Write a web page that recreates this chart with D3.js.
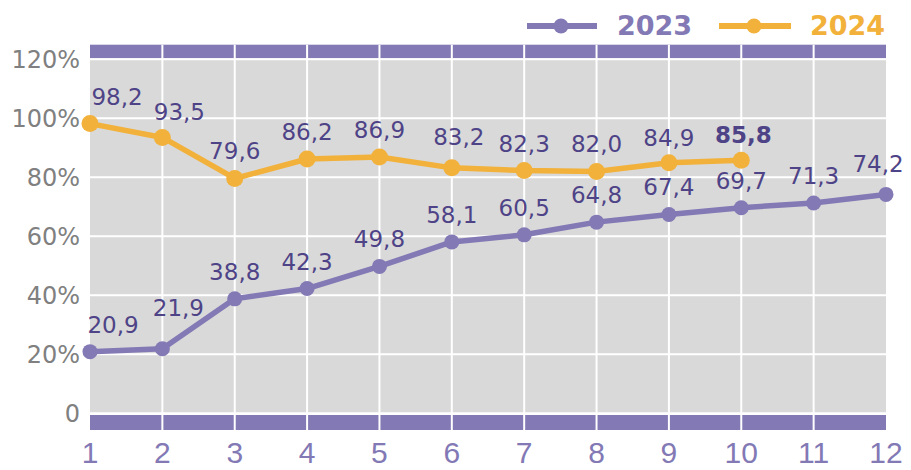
<!DOCTYPE html>
<html>
<head>
<meta charset="utf-8">
<script src="https://cdn.jsdelivr.net/npm/d3@7"></script>
<style>
  html, body { margin: 0; padding: 0; background: #fff; }
  svg { display: block; }
</style>
</head>
<body>
<svg id="chart" width="911" height="470"></svg>
<script>
const months = [1, 2, 3, 4, 5, 6, 7, 8, 9, 10, 11, 12];
const values2023 = [20.9, 21.9, 38.8, 42.3, 49.8, 58.1, 60.5, 64.8, 67.4, 69.7, 71.3, 74.2];
const values2024 = [98.2, 93.5, 79.6, 86.2, 86.9, 83.2, 82.3, 82.0, 84.9, 85.8];
const yTicks = [0, 20, 40, 60, 80, 100, 120];
const yTickLabels = ["0", "20%", "40%", "60%", "80%", "100%", "120%"];

const purple = "#8279B5", orange = "#F2B13A", labelColor = "#4E4387";

const svg = d3.select("#chart");

const x = d3.scalePoint()
    .domain(months)
    .range([90, 886]);

const y = d3.scaleLinear()
    .domain([0, 120])
    .range([413.3, 59.3]);

// plot background
svg.append("rect")
    .attr("x", 90).attr("y", 59)
    .attr("width", 796).attr("height", 355)
    .attr("fill", "#D9D9D9");

// purple bands top and bottom
svg.append("rect")
    .attr("x", 90).attr("y", 44.7)
    .attr("width", 796).attr("height", 13.6)
    .attr("fill", purple);
svg.append("rect")
    .attr("x", 90).attr("y", 415)
    .attr("width", 796).attr("height", 15)
    .attr("fill", purple);

// grid
svg.append("g")
    .selectAll("line")
    .data(yTicks)
    .enter().append("line")
    .attr("x1", 90).attr("x2", 886)
    .attr("y1", d => y(d)).attr("y2", d => y(d))
    .attr("stroke", "#fff")
    .attr("stroke-width", 2);

svg.append("g")
    .selectAll("line")
    .data(months.slice(1, -1))
    .enter().append("line")
    .attr("x1", d => x(d)).attr("x2", d => x(d))
    .attr("y1", 44.7).attr("y2", 430)
    .attr("stroke", "#fff")
    .attr("stroke-width", 2);

// y tick labels
svg.append("g")
    .selectAll("text")
    .data(yTicks)
    .enter().append("text")
    .attr("x", 80)
    .attr("y", d => y(d) + 9)
    .attr("text-anchor", "end")
    .attr("font-family", "DejaVu Sans")
    .attr("font-size", 24)
    .attr("fill", "#808080")
    .text((d, i) => yTickLabels[i]);

// x tick labels
svg.append("g")
    .selectAll("text")
    .data(months)
    .enter().append("text")
    .attr("x", d => x(d))
    .attr("y", 463)
    .attr("text-anchor", "middle")
    .attr("font-family", "Liberation Sans")
    .attr("font-size", 30)
    .attr("fill", purple)
    .text(d => d);

const line = d3.line()
    .x(d => x(d.m))
    .y(d => y(d.v));

const series = [
    {key: "2023", color: purple, r: 7.5, data: values2023.map((v, i) => ({m: months[i], v: v}))},
    {key: "2024", color: orange, r: 8.5, data: values2024.map((v, i) => ({m: months[i], v: v}))}
];

// label nudges where the original labels sit off-centre
const nudge = {
    "2023-0": [23, 0], "2023-1": [16, -14], "2023-11": [-8, -3],
    "2024-0": [27, 0], "2024-1": [17, 2], "2024-5": [7, -4], "2024-8": [0, 2], "2024-9": [2, 2]
};

series.forEach(s => {
    svg.append("path")
        .datum(s.data)
        .attr("d", line)
        .attr("fill", "none")
        .attr("stroke", s.color)
        .attr("stroke-width", 5.5)
        .attr("stroke-linejoin", "round");

    svg.append("g")
        .selectAll("circle")
        .data(s.data)
        .enter().append("circle")
        .attr("cx", d => x(d.m))
        .attr("cy", d => y(d.v))
        .attr("r", s.r)
        .attr("fill", s.color);
});

series.forEach(s => {
    svg.append("g")
        .selectAll("text")
        .data(s.data)
        .enter().append("text")
        .attr("x", (d, i) => x(d.m) + (nudge[s.key + "-" + i] || [0, 0])[0])
        .attr("y", (d, i) => y(d.v) - 19 + (nudge[s.key + "-" + i] || [0, 0])[1])
        .attr("text-anchor", "middle")
        .attr("font-family", "DejaVu Sans")
        .attr("font-size", 23)
        .attr("font-weight", (d, i) => (s.key === "2024" && i === s.data.length - 1) ? "bold" : "normal")
        .attr("fill", labelColor)
        .text(d => d.v.toFixed(1).replace(".", ","));
});

// legend
const legend = [
    {key: "2023", color: purple, x1: 527, x2: 597, cx: 561, tx: 617},
    {key: "2024", color: orange, x1: 719, x2: 791, cx: 754, tx: 810}
];
const lg = svg.append("g").selectAll("g")
    .data(legend)
    .enter().append("g");
lg.append("line")
    .attr("x1", d => d.x1).attr("x2", d => d.x2)
    .attr("y1", 26).attr("y2", 26)
    .attr("stroke", d => d.color)
    .attr("stroke-width", 6);
lg.append("circle")
    .attr("cx", d => d.cx).attr("cy", 26)
    .attr("r", 7.5)
    .attr("fill", d => d.color);
lg.append("text")
    .attr("x", d => d.tx).attr("y", 35)
    .attr("font-family", "DejaVu Sans")
    .attr("font-weight", "bold")
    .attr("font-size", 27)
    .attr("fill", d => d.color)
    .text(d => d.key);
</script>
</body>
</html>
